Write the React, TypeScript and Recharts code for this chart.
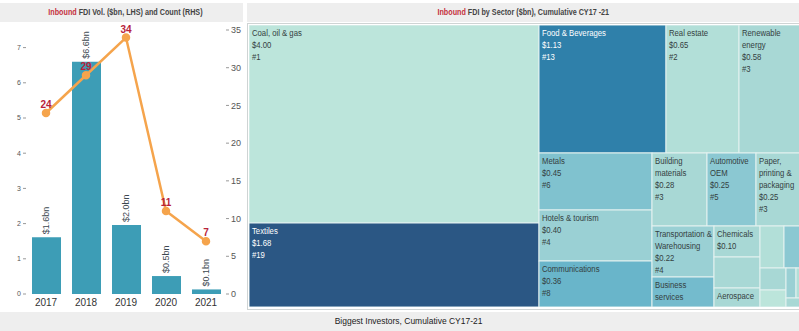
import React from 'react';
import { ComposedChart, Bar, Line, XAxis, YAxis, LabelList, Treemap } from 'recharts';

// left chart: inbound FDI per year
const years = ['2017', '2018', '2019', '2020', '2021'];
const fdiVolume = [1.61, 6.6, 1.96, 0.51, 0.13];
const dealCount = [24, 29, 34, 11, 7];

// right chart: cumulative FDI by sector
const sectorNames = [
  'Coal, oil & gas', 'Textiles', 'Food & Beverages', 'Real estate', 'Renewable energy',
  'Metals', 'Hotels & tourism', 'Communications', 'Building materials', 'Automotive OEM',
  'Paper, printing & packaging', 'Transportation & Warehousing', 'Business services',
  'Chemicals', 'Pharmaceuticals', 'Aerospace', 'Healthcare', 'Electronics',
  'Consumer products', 'Software & IT', 'Plastics', 'Financial services', 'Industrial machinery', 'Biotechnology',
];
const sectorValues = [
  4.0, 1.68, 1.13, 0.65, 0.58,
  0.45, 0.4, 0.36, 0.28, 0.25,
  0.25, 0.22, 0.13,
  0.1, 0.1, 0.06, 0.07, 0.06,
  0.04, 0.03, 0.02, 0.02, 0.015, 0.01,
];
const sectorCounts = [
  1, 19, 13, 2, 3,
  6, 4, 8, 3, 5,
  3, 4, 7,
  3, 3, 3, 2, 5,
  3, 1, 4, 2, 3, 1,
];

const yearData = years.map((year, i) => ({ year, volume: fdiVolume[i], count: dealCount[i] }));
const sectorData = sectorNames.map((name, i) => ({ name, value: sectorValues[i], count: sectorCounts[i] }));

const SANS = "'Liberation Sans', Arial, sans-serif";
const TEXT_SCALE = 0.86; // squeeze to look like Tableau's condensed face
const TREEMAP_LEFT = 249;
const VISIBLE_RIGHT = 799 - TREEMAP_LEFT;

const colorStops: [number, string][] = [
  [1, '#bce5db'], [3, '#a8d8d5'], [5, '#8bc8d2'], [8, '#69b5ca'], [13, '#2f80aa'], [19, '#2b5784'],
];

function hexToRgb(h: string) {
  return [1, 3, 5].map((i) => parseInt(h.slice(i, i + 2), 16));
}

function countColor(c: number) {
  for (let i = 0; i < colorStops.length - 1; i++) {
    const [c0, h0] = colorStops[i];
    const [c1, h1] = colorStops[i + 1];
    if (c <= c1) {
      const t = Math.max(0, (c - c0) / (c1 - c0));
      const a = hexToRgb(h0);
      const b = hexToRgb(h1);
      const m = a.map((v, k) => Math.round(v + (b[k] - v) * t));
      return `rgb(${m[0]},${m[1]},${m[2]})`;
    }
  }
  return colorStops[colorStops.length - 1][1];
}

let ctx: CanvasRenderingContext2D | null = null;
function textWidth(s: string) {
  if (!ctx) ctx = document.createElement('canvas').getContext('2d');
  if (!ctx) return s.length * 4.5;
  ctx.font = `9px ${SANS}`;
  return ctx.measureText(s).width * TEXT_SCALE;
}

function wrapLabel(text: string, maxW: number) {
  const words = text.split(' ');
  if (words.some((w) => textWidth(w) > maxW)) return null;
  const lines: string[] = [];
  let cur = '';
  words.forEach((w) => {
    const next = cur ? cur + ' ' + w : w;
    if (textWidth(next) > maxW && cur) {
      lines.push(cur);
      cur = w;
    } else {
      cur = next;
    }
  });
  if (cur) lines.push(cur);
  return lines;
}

function SectorCell(props: any) {
  const { x, y, width, height, depth, name, value, count } = props;
  if (depth !== 1) return null;
  const fill = countColor(count);
  const textFill = count >= 10 ? '#ffffff' : '#34403f';
  const maxW = Math.min(width, VISIBLE_RIGHT - x) - 5;
  const nameLines = wrapLabel(name, maxW);
  const lines = nameLines ? [...nameLines, `$${value.toFixed(2)}`, `#${count}`] : [];
  const shown = lines.filter((_, i) => 10 + 12 * i + 4 <= height);
  return (
    <g>
      <rect x={x} y={y} width={width} height={height} fill={fill} stroke="#e3f1f0" strokeWidth={1} />
      {shown.map((l, i) => (
        <text key={i} x={0} y={0} transform={`translate(${x + 3} ${y + 11 + 12 * i}) scale(${TEXT_SCALE} 1)`}
          fontSize={9} fontFamily={SANS} fill={textFill}>
          {l}
        </text>
      ))}
    </g>
  );
}

function VolumeLabel(props: any) {
  const { x, y, width, value } = props;
  const cx = x + width / 2;
  const cy = y - 3;
  return (
    <text x={cx} y={cy} transform={`rotate(-90 ${cx} ${cy})`} textAnchor="start" dominantBaseline="central"
      fontSize={9} fontFamily={SANS} fill="#3c4850">
      {`$${value.toFixed(1)}bn`}
    </text>
  );
}

const band: React.CSSProperties = {
  position: 'absolute', background: '#eeeeee', fontFamily: SANS, fontWeight: 700, fontSize: 9,
  color: '#444', textAlign: 'center', lineHeight: '19px', height: 19, whiteSpace: 'nowrap',
};

const squeeze = (s: number): React.CSSProperties => ({ display: 'inline-block', transform: `scaleX(${s})` });

export default function App() {
  return (
    <div style={{ position: 'fixed', left: 0, top: 0, width: 799, height: 331, overflow: 'hidden', background: '#fff' }}>
      <div style={{ ...band, left: 0, top: 3, width: 243, paddingLeft: 8, boxSizing: 'border-box' }}>
        <span style={squeeze(0.8)}>
          <span style={{ color: '#c4303c' }}>Inbound</span> FDI Vol. ($bn, LHS) and Count (RHS)
        </span>
      </div>
      <div style={{ ...band, left: 247, top: 3, width: 552 }}>
        <span style={squeeze(0.8)}>
          <span style={{ color: '#c4303c' }}>Inbound</span> FDI by Sector ($bn), Cumulative CY17 -21
        </span>
      </div>
      <div style={{ ...band, left: 0, top: 312, width: 799, paddingLeft: 19, boxSizing: 'border-box', fontWeight: 400, color: '#222' }}>
        <span style={squeeze(0.94)}>Biggest Investors, Cumulative CY17-21</span>
      </div>

      <div style={{ position: 'absolute', left: 0, top: 0 }}>
        <ComposedChart width={245} height={312} data={yearData} margin={{ top: 30, right: 0, bottom: 0, left: 0 }}>
          <XAxis dataKey="year" axisLine={false} tickLine={false} tickSize={3} tickMargin={2} height={18}
            tick={{ fontSize: 10, fill: '#333', fontFamily: SANS }} />
          <YAxis yAxisId="left" domain={[0, 7.5]} ticks={[0, 1, 2, 3, 4, 5, 6, 7]} width={26} axisLine={false}
            tickSize={3} tickMargin={2} tickLine={{ stroke: '#999' }} tick={{ fontSize: 7, fill: '#555', fontFamily: SANS }} />
          <YAxis yAxisId="right" orientation="right" domain={[0, 35]} ticks={[0, 5, 10, 15, 20, 25, 30, 35]} width={19}
            axisLine={false} tickSize={3} tickMargin={2} tickLine={{ stroke: '#999' }}
            tick={{ fontSize: 9, fill: '#555', fontFamily: SANS }} />
          <Bar yAxisId="left" dataKey="volume" fill="#3d9db6" barSize={29} isAnimationActive={false}>
            <LabelList dataKey="volume" content={VolumeLabel} />
          </Bar>
          <Line yAxisId="right" type="linear" dataKey="count" stroke="#f5a44c" strokeWidth={2.5}
            dot={{ r: 3, fill: '#f5a44c', stroke: '#f5a44c' }} isAnimationActive={false}>
            <LabelList dataKey="count" position="top" offset={5} fill="#b8233b" fontSize={10} fontWeight={700}
              fontFamily={SANS} />
          </Line>
        </ComposedChart>
      </div>

      <div style={{ position: 'absolute', left: 247, top: 23, width: 560, height: 285, border: '1px solid #cfd4d4' }} />
      <div style={{ position: 'absolute', left: TREEMAP_LEFT, top: 25 }}>
        <Treemap width={556} height={282} data={sectorData} dataKey="value" nameKey="name" aspectRatio={1.7}
          isAnimationActive={false} content={<SectorCell />} />
      </div>
    </div>
  );
}
